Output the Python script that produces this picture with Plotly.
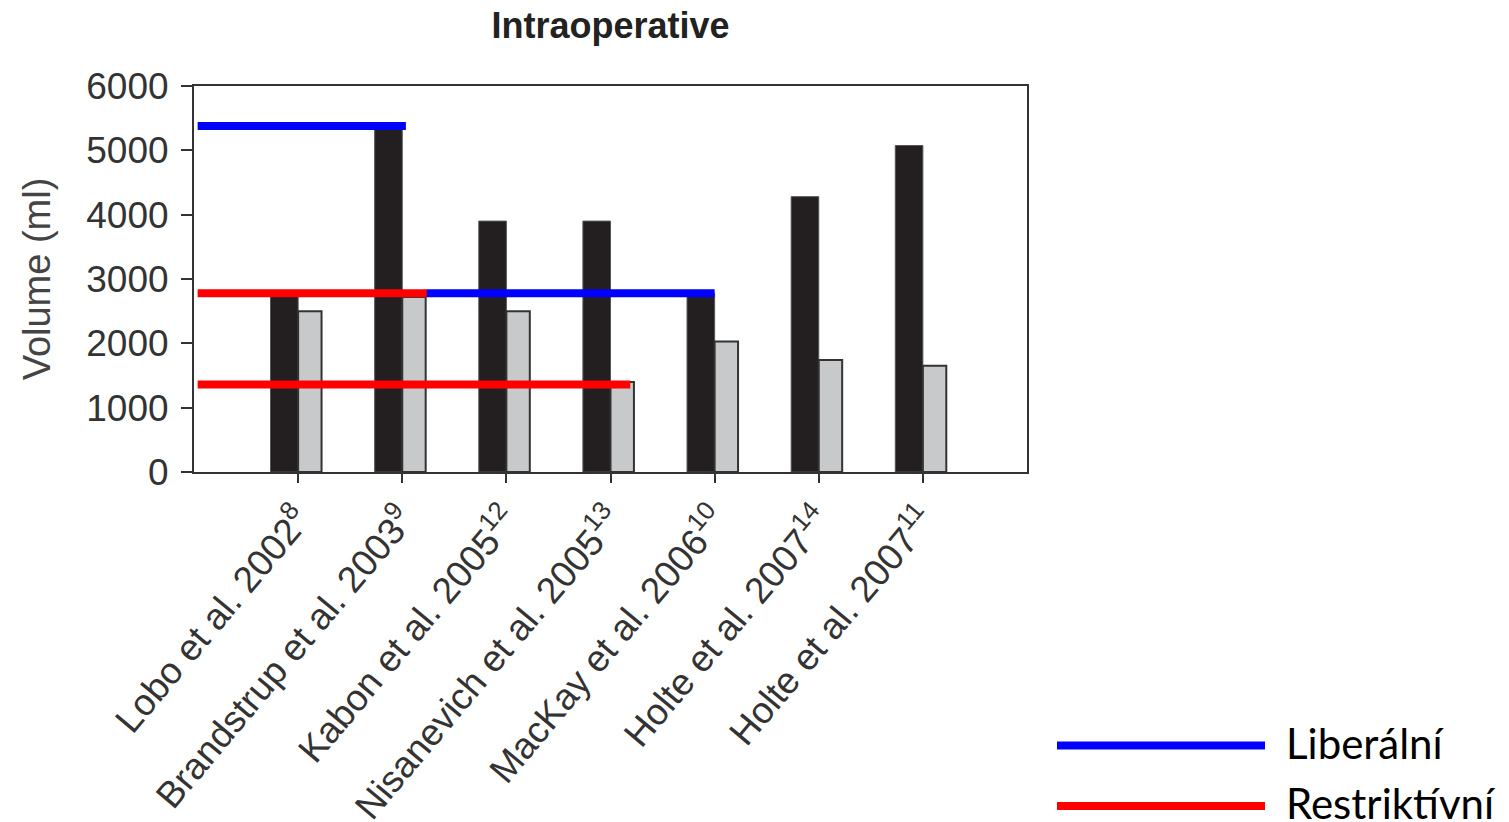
import plotly.graph_objects as go

# Studies (superscript = reference number)
studies = [
    "Lobo et al. 2002<sup>8</sup>",
    "Brandstrup et al. 2003<sup>9</sup>",
    "Kabon et al. 2005<sup>12</sup>",
    "Nisanevich et al. 2005<sup>13</sup>",
    "MacKay et al. 2006<sup>10</sup>",
    "Holte et al. 2007<sup>14</sup>",
    "Holte et al. 2007<sup>11</sup>",
]
liberal_ml = [2800, 5400, 3900, 3900, 2780, 4280, 5075]
restrictive_ml = [2500, 2720, 2500, 1400, 2030, 1740, 1650]

# Reference levels marked across groups of studies (x in category units)
liberal_high_x = [-0.965, 1.035]
liberal_high_y = [5380, 5380]
liberal_mid_x = [1.235, 4.0]
liberal_mid_y = [2780, 2780]
restrictive_mid_x = [-0.965, 1.24]
restrictive_mid_y = [2780, 2780]
restrictive_low_x = [-0.965, 3.19]
restrictive_low_y = [1360, 1360]

y_ticks = [0, 1000, 2000, 3000, 4000, 5000, 6000]

W, H = 1509, 822
L, R, T, B = 194, 482, 86, 350
x_pos = list(range(len(studies)))

fig = go.Figure()
fig.add_trace(go.Bar(
    x=x_pos, y=liberal_ml, offset=-0.265, width=0.265,
    marker=dict(color="#231f20", line=dict(color="#555555", width=1)),
    showlegend=False,
))
fig.add_trace(go.Bar(
    x=x_pos, y=restrictive_ml, offset=0, width=0.225,
    marker=dict(color="#c8c9cb", line=dict(color="#333333", width=2)),
    showlegend=False,
))

blue = "#0000ff"
red = "#ff0000"
for xs, ys, c in [
    (liberal_high_x, liberal_high_y, blue),
    (restrictive_mid_x, restrictive_mid_y, red),
    (liberal_mid_x, liberal_mid_y, blue),
    (restrictive_low_x, restrictive_low_y, red),
]:
    fig.add_trace(go.Scatter(x=xs, y=ys, mode="lines",
                             line=dict(color=c, width=8),
                             showlegend=False, hoverinfo="skip"))


def px_x(p):
    return (p - L) / (W - L - R)


def px_y(p):
    return (H - B - p) / (H - T - B)


# Legend drawn beside the chart
for yy, c, label in [(745.5, blue, "Liberální"), (806, red, "Restriktívní")]:
    fig.add_shape(type="line", xref="paper", yref="paper",
                  x0=px_x(1057), x1=px_x(1265), y0=px_y(yy), y1=px_y(yy),
                  line=dict(color=c, width=8))
    fig.add_annotation(xref="paper", yref="paper", x=px_x(1284), y=px_y(yy - 3),
                       text=label, showarrow=False, xanchor="left", yanchor="middle",
                       font=dict(family="Lato", size=42, color="#000000"))

fig.update_layout(
    width=W, height=H,
    margin=dict(l=L, r=R, t=T, b=B, pad=0),
    paper_bgcolor="white", plot_bgcolor="white",
    barmode="overlay",
    title=dict(text="<b>Intraoperative</b>", x=(L + (W - L - R) / 2) / W,
               xanchor="center", y=1 - 25 / H, yanchor="middle",
               font=dict(family="Liberation Sans", size=36, color="#222222")),
    font=dict(family="Liberation Sans", color="#333333"),
    xaxis=dict(
        range=[-1, 7], tickmode="array", tickvals=x_pos, ticktext=studies,
        tickangle=-50, ticks="outside", ticklen=9, tickwidth=2, tickcolor="#333333",
        showline=True, linecolor="#333333", linewidth=2, mirror=True,
        showgrid=False, zeroline=False, automargin=False,
        tickfont=dict(family="Liberation Sans", size=37, color="#333333"),
    ),
    yaxis=dict(
        range=[0, 6000], tickmode="array", tickvals=y_ticks,
        ticks="outside", ticklen=11, tickwidth=2, tickcolor="#333333",
        ticklabelstandoff=5, automargin=False,
        showline=True, linecolor="#333333", linewidth=2, mirror=True,
        showgrid=False, zeroline=False,
        tickfont=dict(family="Liberation Sans", size=37, color="#333333"),
        title=dict(text="Volume (ml)", standoff=24,
                   font=dict(family="Liberation Sans", size=38, color="#444444")),
    ),
)

fig.write_html("out.html")
